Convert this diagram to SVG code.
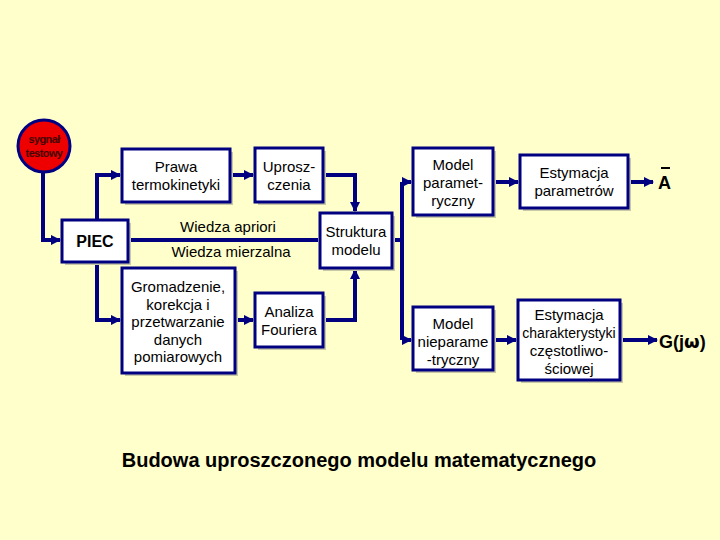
<svg xmlns="http://www.w3.org/2000/svg" width="720" height="540" viewBox="0 0 720 540">
<defs>
<marker id="ah" viewBox="0 0 10 10" refX="9" refY="5" markerWidth="2.6" markerHeight="2.6" orient="auto" markerUnits="strokeWidth">
<path d="M0,0 L10,5 L0,10 z" fill="#000080"/>
</marker>
<style>
.bx{fill:#ffffff;stroke:#000080;stroke-width:3}
.sh{fill:#c9c9a8}
.ln{fill:none;stroke:#000080;stroke-width:4}
.t{font-family:"Liberation Sans",Arial,sans-serif;font-size:15px;fill:#000000;text-anchor:middle}
.b{font-family:"Liberation Sans",Arial,sans-serif;font-weight:bold;fill:#000000}
</style>
</defs>
<rect width="720" height="540" fill="#ffffcc"/>

<g id="connectors">
<path class="ln" d="M43,172 V240 H60" marker-end="url(#ah)"/>
<path class="ln" d="M97,220 V175 H120" marker-end="url(#ah)"/>
<path class="ln" d="M97,262 V320 H120" marker-end="url(#ah)"/>
<path class="ln" d="M230,175 H253" marker-end="url(#ah)"/>
<path class="ln" d="M323,175 H355 V211" marker-end="url(#ah)"/>
<path class="ln" d="M128,240 H318"/>
<path class="ln" d="M235,320 H253" marker-end="url(#ah)"/>
<path class="ln" d="M323,320 H355 V270" marker-end="url(#ah)"/>
<path class="ln" d="M392,240 H402"/>
<path class="ln" d="M402,182 V340"/>
<path class="ln" d="M402,182 H411" marker-end="url(#ah)"/>
<path class="ln" d="M402,340 H411" marker-end="url(#ah)"/>
<path class="ln" d="M492,182 H518" marker-end="url(#ah)"/>
<path class="ln" d="M628,182 H653" marker-end="url(#ah)"/>
<path class="ln" d="M493,340 H516" marker-end="url(#ah)"/>
<path class="ln" d="M620,340 H657" marker-end="url(#ah)"/>
</g>

<g id="sygnal">
<circle cx="44" cy="146" r="26" fill="#ee0000" stroke="#000080" stroke-width="3"/>
<text class="b" x="44" y="143" text-anchor="middle" style="font-size:11px;letter-spacing:-0.6px;fill:#440000">sygnał</text>
<text class="b" x="44" y="157" text-anchor="middle" style="font-size:11px;letter-spacing:-0.6px;fill:#440000">testowy</text>
</g>

<g id="piec">
<rect class="sh" x="65" y="223" width="66" height="42"/>
<rect class="bx" x="62" y="220" width="66" height="42"/>
<text class="b" x="95" y="247" text-anchor="middle" style="font-size:16px">PIEC</text>
</g>

<g id="prawa">
<rect class="sh" x="125" y="152" width="108" height="53"/>
<rect class="bx" x="122" y="149" width="108" height="53"/>
<text class="t" x="176" y="172">Prawa</text>
<text class="t" x="176" y="190">termokinetyki</text>
</g>

<g id="uproszczenia">
<rect class="sh" x="258" y="151" width="68" height="54"/>
<rect class="bx" x="255" y="148" width="68" height="54"/>
<text class="t" x="289" y="172">Uprosz-</text>
<text class="t" x="289" y="190">czenia</text>
</g>

<g id="wiedza">
<text class="t" x="228" y="232">Wiedza apriori</text>
<text class="t" x="231" y="257">Wiedza mierzalna</text>
</g>

<g id="struktura">
<rect class="sh" x="323" y="216" width="72" height="55"/>
<rect class="bx" x="320" y="213" width="72" height="55"/>
<text class="t" x="356" y="237">Struktura</text>
<text class="t" x="356" y="255">modelu</text>
</g>

<g id="gromadzenie">
<rect class="sh" x="125" y="271" width="113" height="105"/>
<rect class="bx" x="122" y="268" width="113" height="105"/>
<text class="t" x="178" y="292">Gromadzenie,</text>
<text class="t" x="178" y="310">korekcja i</text>
<text class="t" x="178" y="327">przetwarzanie</text>
<text class="t" x="178" y="345">danych</text>
<text class="t" x="178" y="362">pomiarowych</text>
</g>

<g id="analiza">
<rect class="sh" x="258" y="296" width="68" height="54"/>
<rect class="bx" x="255" y="293" width="68" height="54"/>
<text class="t" x="289" y="317">Analiza</text>
<text class="t" x="289" y="335">Fouriera</text>
</g>

<g id="model-param">
<rect class="sh" x="416" y="151" width="80" height="67"/>
<rect class="bx" x="413" y="148" width="80" height="67"/>
<text class="t" x="453" y="170">Model</text>
<text class="t" x="453" y="188">paramet-</text>
<text class="t" x="453" y="206">ryczny</text>
</g>

<g id="estymacja-param">
<rect class="sh" x="523" y="158" width="108" height="53"/>
<rect class="bx" x="520" y="155" width="108" height="53"/>
<text class="t" x="574" y="178">Estymacja</text>
<text class="t" x="574" y="196">parametrów</text>
</g>

<g id="model-nieparam">
<rect class="sh" x="416" y="310" width="80" height="63"/>
<rect class="bx" x="413" y="307" width="80" height="63"/>
<text class="t" x="453" y="329">Model</text>
<text class="t" x="453" y="347">nieparame</text>
<text class="t" x="453" y="365">-tryczny</text>
</g>

<g id="estymacja-char">
<rect class="sh" x="521" y="303" width="102" height="80"/>
<rect class="bx" x="518" y="300" width="102" height="80"/>
<text class="t" x="569" y="320">Estymacja</text>
<text class="t" x="569" y="338" style="font-size:14px">charakterystyki</text>
<text class="t" x="569" y="356">częstotliwo-</text>
<text class="t" x="569" y="374">ściowej</text>
</g>

<g id="outputs">
<text class="b" x="658" y="189" style="font-size:18px">A</text>
<line x1="661" y1="168" x2="670" y2="168" stroke="#000000" stroke-width="2"/>
<text class="b" x="659" y="348" style="font-size:18px">G(j<tspan font-family="'DejaVu Sans',sans-serif">ω</tspan>)</text>
</g>

<g id="title">
<text class="b" x="359" y="467" text-anchor="middle" style="font-size:20px">Budowa uproszczonego modelu matematycznego</text>
</g>
</svg>
